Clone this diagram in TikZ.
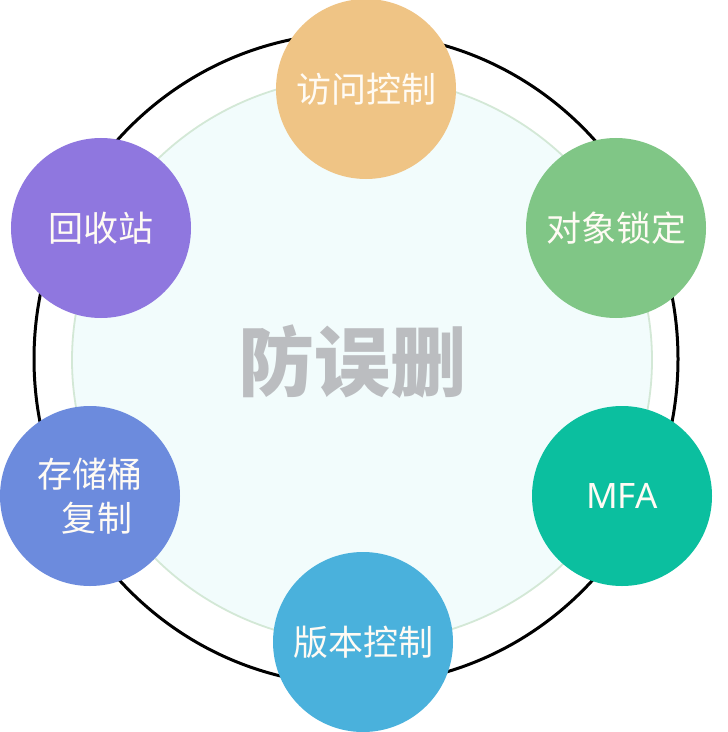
\documentclass[tikz,border=0pt]{standalone}
\usepackage{fontspec}
\newfontfamily\cjk{Noto Sans CJK SC}
\definecolor{outerline}{HTML}{000000}
\definecolor{innerfill}{HTML}{F2FCFC}
\definecolor{innerline}{HTML}{D3E8D6}
\definecolor{cOrange}{HTML}{EFC485}
\definecolor{cPurple}{HTML}{8F77DF}
\definecolor{cGreen}{HTML}{80C686}
\definecolor{cBlue}{HTML}{6C8BDD}
\definecolor{cTeal}{HTML}{0BBF9F}
\definecolor{cSky}{HTML}{4AB1DC}
\definecolor{centergray}{HTML}{BBBDC0}
\definecolor{txtwhite}{HTML}{FFFBF4}
\tikzset{
  bubble/.style={circle, minimum size=180bp, inner sep=0pt, text=txtwhite,
    font=\cjk\fontsize{35bp}{44bp}\selectfont, align=center},
}
\begin{document}
\begin{tikzpicture}[x=1bp,y=-1bp]
\useasboundingbox (0,0) rectangle (728,732);
\fill[white] (0,0) rectangle (728,732);
\draw[outerline, line width=3bp] (356,359) ellipse [x radius=322, y radius=326];
\draw[innerline, fill=innerfill, line width=1.8bp] (362,360) ellipse [x radius=290, y radius=283];
\node[text=centergray, font=\cjk\bfseries\fontsize{76bp}{80bp}\selectfont] (center) at (352,362) {防误删};
\node[bubble, fill=cOrange] (access) at (366,89) {访问控制};
\node[bubble, fill=cPurple] (recycle) at (101,228) {回收站};
\node[bubble, fill=cGreen] (lock) at (616,228) {对象锁定};
\node[bubble, fill=cBlue] (repl) at (90,496) {存储桶\\\hspace*{0.4em}复制};
\node[bubble, fill=cTeal, font=\fontspec{Noto Sans}\fontsize{35bp}{44bp}\selectfont] (mfa) at (622,496) {MFA};
\node[bubble, fill=cSky] (version) at (363,642) {版本控制};
\end{tikzpicture}
\end{document}
